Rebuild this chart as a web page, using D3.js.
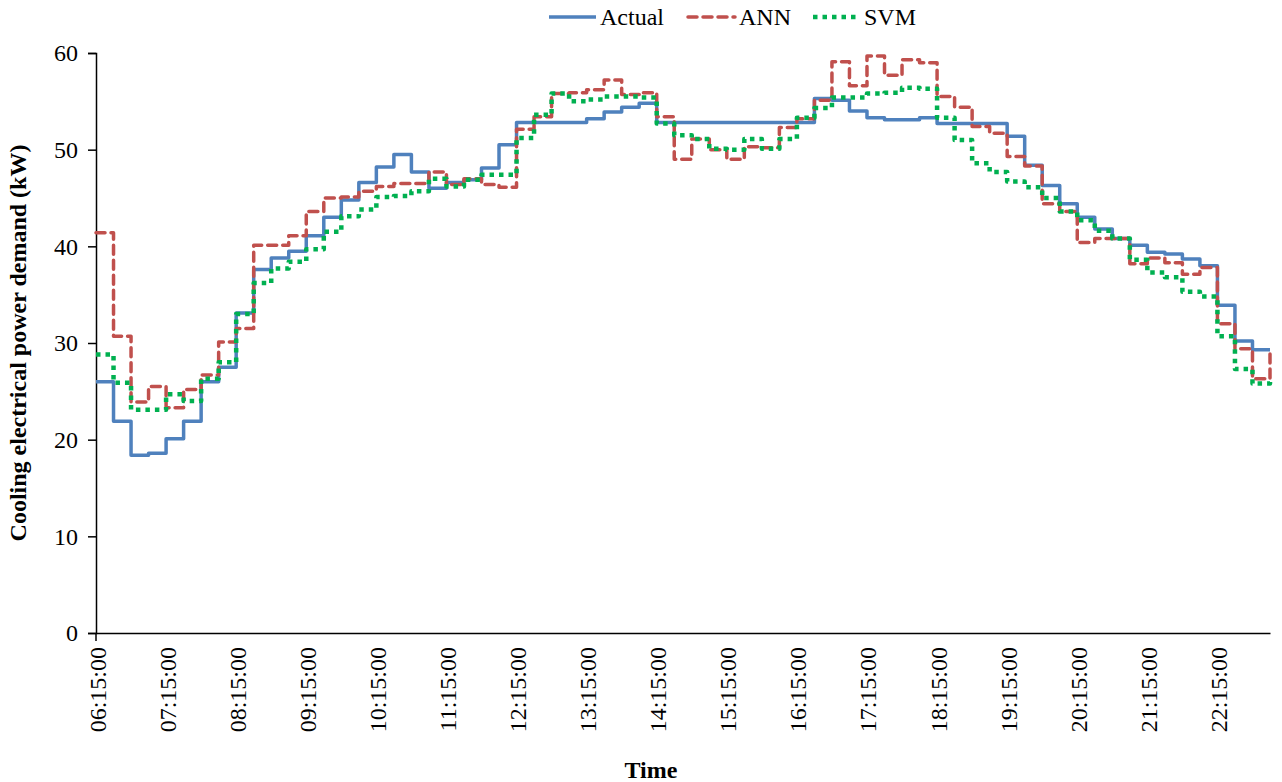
<!DOCTYPE html>
<html lang="en">
<head>
	<meta charset="utf-8">
	<title>Cooling electrical power demand</title>
	<script src="https://d3js.org/d3.v7.min.js" charset="utf-8"></script>
	<style>
	body { margin: 0; background: #fff; }
	text { font-family: "Liberation Serif", "Times New Roman", serif; }
	</style>
</head>
<body>
<script>
// 15-minute steps from 06:15, last point is 23:00
var startTime = "06:15";
var stepMinutes = 15;

var actual = [26.0, 21.9, 18.4, 18.6, 20.1, 21.9, 26.0, 27.5, 33.1, 37.6,
	38.8, 39.5, 41.1, 43.0, 44.8, 46.6, 48.2, 49.5, 47.7, 46.0,
	46.6, 46.9, 48.1, 50.5, 52.8, 52.8, 52.8, 52.8, 53.2, 53.9,
	54.4, 54.8, 52.8, 52.8, 52.8, 52.8, 52.8, 52.8, 52.8, 52.8,
	52.8, 55.3, 55.1, 54.0, 53.3, 53.1, 53.1, 53.3, 52.7, 52.7,
	52.7, 52.7, 51.4, 48.4, 46.3, 44.4, 43.0, 41.8, 40.8, 40.1,
	39.4, 39.2, 38.7, 38.0, 33.9, 30.2, 29.3, 29.3];

var ann = [41.4, 30.7, 23.9, 25.5, 23.3, 25.2, 26.7, 30.1, 31.5, 40.1,
	40.1, 41.1, 43.6, 45.0, 45.1, 45.7, 46.2, 46.5, 46.5, 47.7,
	46.4, 47.0, 46.4, 46.1, 52.1, 53.4, 55.8, 55.9, 56.2, 57.2,
	55.7, 55.9, 53.4, 49.0, 51.1, 50.0, 49.0, 50.3, 50.2, 52.3,
	53.2, 55.1, 59.1, 56.6, 59.7, 57.7, 59.3, 59.0, 55.5, 54.4,
	52.4, 51.7, 49.3, 48.3, 44.4, 43.6, 40.4, 40.8, 40.8, 38.2,
	38.8, 38.3, 37.1, 37.8, 32.0, 29.4, 26.3, 29.2];

var svm = [28.8, 25.9, 23.1, 23.1, 24.7, 24.0, 26.3, 28.0, 33.0, 36.2,
	37.7, 38.4, 39.7, 41.5, 43.1, 43.8, 45.1, 45.2, 45.7, 47.0,
	46.2, 46.9, 47.4, 47.4, 51.2, 53.6, 55.8, 55.0, 55.2, 55.5,
	55.5, 55.4, 52.7, 51.5, 51.1, 50.1, 50.0, 51.1, 50.1, 51.1,
	53.3, 54.3, 55.4, 55.4, 55.8, 55.9, 56.4, 56.3, 53.3, 51.0,
	48.6, 47.7, 46.7, 46.1, 45.0, 43.6, 42.7, 41.6, 40.8, 38.6,
	37.3, 36.8, 35.3, 34.8, 30.7, 27.3, 25.8, 26.0];

var seriesNames = ["Actual", "ANN", "SVM"];
var yTicks = [0, 10, 20, 30, 40, 50, 60];

var w = 1282, h = 782;
var margin = {left: 96, right: 12, top: 53, bottom: 149};

var parseTime = d3.timeParse("%H:%M");
var t0 = parseTime(startTime);
var times = actual.map(function(d, i) { return d3.timeMinute.offset(t0, i * stepMinutes); });
// one label per hour
var hourTicks = times.filter(function(t, i) { return i % 4 === 0 && i < times.length - 1; });

var svg = d3.select("body").append("svg")
	.attr("width", w)
	.attr("height", h);

var x = d3.scaleTime()
	.domain([times[0], times[times.length - 1]])
	.range([margin.left, w - margin.right]);

var y = d3.scaleLinear()
	.domain([0, 60])
	.range([h - margin.bottom, margin.top]);

var styles = {
	"Actual": {color: "#4F81BD", width: 3.5, dash: null, cap: "butt"},
	"ANN": {color: "#C0504D", width: 3.5, dash: "9,6", cap: "round"},
	"SVM": {color: "#00B050", width: 4.5, dash: "4.5,5", cap: "butt"}
};
var data = {"Actual": actual, "ANN": ann, "SVM": svm};

// y axis
var yAxis = svg.append("g")
	.attr("transform", "translate(" + margin.left + ",0)")
	.call(d3.axisLeft(y).tickValues(yTicks).tickSize(8).tickPadding(10));
yAxis.select(".domain").attr("stroke", "#000").attr("stroke-width", 1.5);
yAxis.selectAll(".tick line").attr("stroke", "#000").attr("stroke-width", 1.5);
yAxis.selectAll("text")
	.attr("font-size", 24)
	.attr("fill", "#000");

// x axis
var xAxis = svg.append("g")
	.attr("transform", "translate(0," + y(0) + ")")
	.call(d3.axisBottom(x).tickValues(hourTicks).tickSize(0).tickFormat(d3.timeFormat("%H:%M:%S")));
xAxis.select(".domain").attr("stroke", "#000").attr("stroke-width", 1.5);
xAxis.selectAll("text")
	.attr("font-size", 24)
	.attr("fill", "#000")
	.attr("text-anchor", "end")
	.attr("dy", null)
	.attr("y", 0)
	.attr("dominant-baseline", "central")
	.attr("transform", "translate(1,14) rotate(-90)");

// small tick below the origin
svg.append("line")
	.attr("x1", margin.left).attr("x2", margin.left)
	.attr("y1", y(0)).attr("y2", y(0) + 8)
	.attr("stroke", "#000").attr("stroke-width", 1.5);

// lines
var line = d3.line()
	.x(function(d, i) { return x(times[i]); })
	.y(function(d) { return y(d); })
	.curve(d3.curveStepAfter);

seriesNames.forEach(function(name) {
	var s = styles[name];
	svg.append("path")
		.datum(data[name])
		.attr("fill", "none")
		.attr("stroke", s.color)
		.attr("stroke-width", s.width)
		.attr("stroke-dasharray", s.dash)
		.attr("stroke-linecap", s.cap)
		.attr("stroke-linejoin", "round")
		.attr("d", line);
});

// axis titles
svg.append("text")
	.attr("transform", "translate(26," + ((y(0) + y(60)) / 2) + ") rotate(-90)")
	.attr("text-anchor", "middle")
	.attr("font-size", 24)
	.attr("font-weight", "bold")
	.text("Cooling electrical power demand (kW)");

svg.append("text")
	.attr("x", 651)
	.attr("y", 778)
	.attr("text-anchor", "middle")
	.attr("font-size", 24)
	.attr("font-weight", "bold")
	.text("Time");

// legend
var legendPos = {"Actual": 549, "ANN": 688, "SVM": 813};
seriesNames.forEach(function(name) {
	var s = styles[name];
	var lx = legendPos[name];
	svg.append("line")
		.attr("x1", lx).attr("x2", lx + 47)
		.attr("y1", 17).attr("y2", 17)
		.attr("stroke", s.color)
		.attr("stroke-width", s.width)
		.attr("stroke-dasharray", s.dash)
		.attr("stroke-linecap", s.cap);
	svg.append("text")
		.attr("x", lx + 51)
		.attr("y", 25)
		.attr("font-size", 24)
		.text(name);
});
</script>
</body>
</html>
